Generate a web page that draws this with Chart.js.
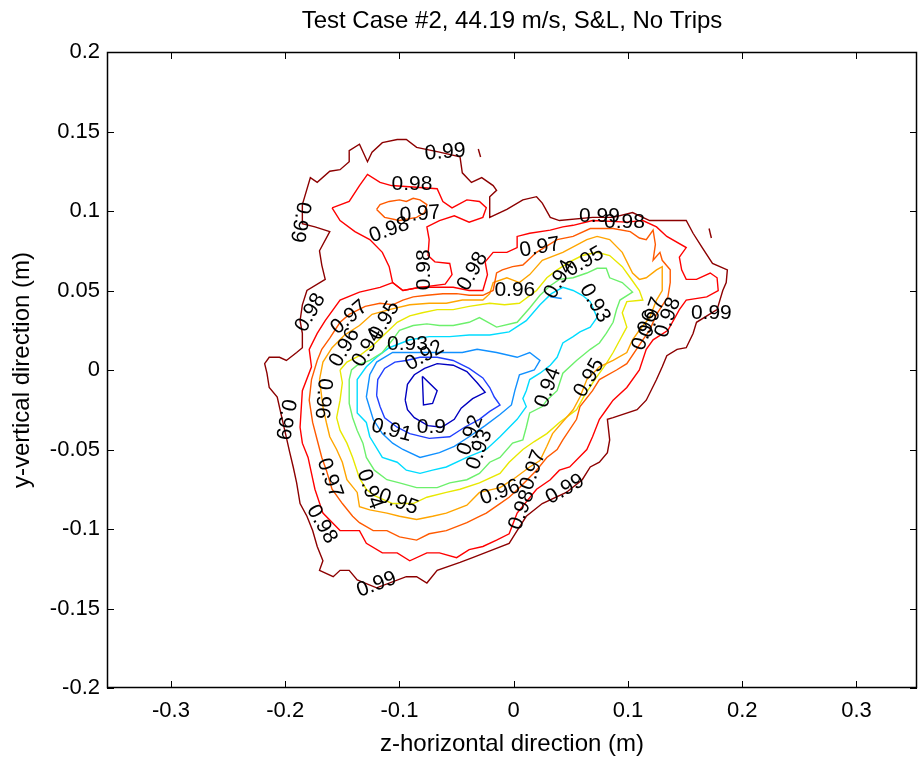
<!DOCTYPE html>
<html>
<head>
<meta charset="utf-8">
<title>Test Case #2</title>
<script src="https://cdn.jsdelivr.net/npm/chart.js@4.4.1/dist/chart.umd.min.js"></script>
<style>
  body { margin: 0; background: #fff; }
</style>
</head>
<body>
<canvas id="chart1" width="919" height="759"></canvas>
<script>
// contour levels and colours (jet-like, outer = 0.99)
const levels = [0.99, 0.98, 0.97, 0.96, 0.95, 0.94, 0.93, 0.92, 0.91, 0.9];
const levelColors = ['#8c0000', '#ff0000', '#ff5a00', '#ffa500', '#e8e800',
                     '#6cf06c', '#00dcff', '#1090ff', '#2040ff', '#0000c0'];

const xTicks = [-0.3, -0.2, -0.1, 0, 0.1, 0.2, 0.3];
const xTickLabels = ['-0.3', '-0.2', '-0.1', '0', '0.1', '0.2', '0.3'];
const yTicks = [-0.2, -0.15, -0.1, -0.05, 0, 0.05, 0.1, 0.15, 0.2];
const yTickLabels = ['-0.2', '-0.15', '-0.1', '-0.05', '0', '0.05', '0.1', '0.15', '0.2'];

// contour lines, [z, y] in metres
const c99 = [[-0.185,0.104],[-0.178,0.121],[-0.172,0.118],[-0.161,0.125],[-0.152,0.126],[-0.144,0.131],[-0.144,0.138],[-0.135,0.142],[-0.128,0.131],[-0.124,0.137],[-0.115,0.143],[-0.102,0.145],[-0.094,0.145],[-0.085,0.140],[-0.065,0.137],[-0.047,0.134],[-0.045,0.124],[-0.037,0.118],[-0.028,0.121],[-0.018,0.116],[-0.015,0.113],[-0.021,0.109],[-0.021,0.096],[-0.006,0.101],[0.008,0.107],[0.020,0.109],[0.025,0.105],[0.032,0.096],[0.040,0.094],[0.069,0.096],[0.087,0.096],[0.104,0.099],[0.119,0.094],[0.139,0.094],[0.151,0.094],[0.157,0.086],[0.165,0.077],[0.174,0.067],[0.187,0.063],[0.186,0.055],[0.183,0.050],[0.178,0.038],[0.160,0.030],[0.157,0.023],[0.151,0.014],[0.143,0.013],[0.134,0.009],[0.130,0.002],[0.125,-0.006],[0.116,-0.019],[0.108,-0.025],[0.087,-0.030],[0.082,-0.031],[0.084,-0.044],[0.082,-0.052],[0.075,-0.058],[0.067,-0.061],[0.060,-0.069],[0.046,-0.077],[0.025,-0.084],[0.011,-0.092],[0.003,-0.101],[-0.004,-0.109],[-0.018,-0.113],[-0.036,-0.118],[-0.047,-0.121],[-0.067,-0.126],[-0.076,-0.134],[-0.085,-0.130],[-0.094,-0.130],[-0.120,-0.137],[-0.137,-0.132],[-0.144,-0.126],[-0.152,-0.126],[-0.158,-0.130],[-0.170,-0.126],[-0.167,-0.120],[-0.172,-0.111],[-0.176,-0.101],[-0.181,-0.092],[-0.187,-0.084],[-0.190,-0.071],[-0.193,-0.061],[-0.196,-0.052],[-0.202,-0.033],[-0.207,-0.017],[-0.214,-0.011],[-0.216,-0.002],[-0.218,0.004],[-0.214,0.008],[-0.205,0.008],[-0.199,0.006],[-0.190,0.011],[-0.185,0.014],[-0.185,0.023],[-0.187,0.031],[-0.185,0.041],[-0.181,0.050],[-0.165,0.057],[-0.168,0.066],[-0.170,0.075],[-0.161,0.087],[-0.174,0.090],[-0.185,0.092],[-0.185,0.104]];
const c99a = [[-0.031,0.139],[-0.029,0.134]];
const c99b = [[0.171,0.089],[0.173,0.083]];

const c98 = [[-0.106,0.055],[-0.097,0.050],[-0.082,0.052],[-0.067,0.052],[-0.053,0.052],[-0.039,0.050],[-0.027,0.050],[-0.023,0.060],[-0.025,0.068],[-0.018,0.074],[-0.006,0.074],[0.003,0.077],[0.003,0.084],[0.014,0.086],[0.032,0.088],[0.043,0.090],[0.052,0.091],[0.069,0.094],[0.099,0.093],[0.113,0.094],[0.125,0.090],[0.134,0.084],[0.151,0.077],[0.145,0.071],[0.147,0.063],[0.151,0.057],[0.160,0.057],[0.172,0.061],[0.178,0.058],[0.179,0.050],[0.169,0.046],[0.151,0.044],[0.145,0.038],[0.135,0.025],[0.122,0.019],[0.116,0.013],[0.110,0.000],[0.099,-0.011],[0.087,-0.019],[0.081,-0.025],[0.075,-0.031],[0.069,-0.042],[0.064,-0.050],[0.049,-0.061],[0.040,-0.063],[0.032,-0.069],[0.020,-0.075],[0.003,-0.090],[-0.004,-0.103],[-0.015,-0.107],[-0.027,-0.111],[-0.039,-0.113],[-0.050,-0.118],[-0.065,-0.115],[-0.076,-0.115],[-0.091,-0.120],[-0.102,-0.115],[-0.115,-0.115],[-0.129,-0.109],[-0.135,-0.101],[-0.152,-0.101],[-0.167,-0.090],[-0.174,-0.075],[-0.177,-0.065],[-0.180,-0.055],[-0.185,-0.046],[-0.187,-0.036],[-0.185,-0.013],[-0.177,0.002],[-0.179,0.013],[-0.172,0.023],[-0.165,0.031],[-0.152,0.044],[-0.135,0.049],[-0.117,0.052],[-0.106,0.055]];
const c98lobe = [[-0.159,0.102],[-0.144,0.106],[-0.135,0.116],[-0.128,0.123],[-0.117,0.118],[-0.107,0.116],[-0.067,0.114],[-0.062,0.106],[-0.054,0.102],[-0.041,0.107],[-0.030,0.106],[-0.024,0.102],[-0.027,0.096],[-0.039,0.093],[-0.052,0.097],[-0.065,0.094],[-0.076,0.090],[-0.074,0.082],[-0.075,0.072],[-0.069,0.068],[-0.056,0.067],[-0.054,0.060],[-0.060,0.054],[-0.082,0.052],[-0.097,0.050],[-0.106,0.055],[-0.109,0.065],[-0.115,0.074],[-0.126,0.082],[-0.139,0.087],[-0.152,0.094],[-0.159,0.102]];

const c97 = [[-0.161,0.020],[-0.152,0.030],[-0.144,0.035],[-0.130,0.040],[-0.117,0.042],[-0.106,0.041],[-0.097,0.044],[-0.088,0.046],[-0.076,0.047],[-0.062,0.048],[-0.050,0.048],[-0.039,0.047],[-0.027,0.047],[-0.018,0.050],[-0.015,0.061],[-0.010,0.063],[-0.001,0.065],[0.008,0.066],[0.020,0.074],[0.038,0.082],[0.052,0.084],[0.067,0.089],[0.087,0.089],[0.102,0.087],[0.110,0.083],[0.116,0.082],[0.122,0.088],[0.124,0.079],[0.122,0.069],[0.128,0.074],[0.130,0.069],[0.137,0.063],[0.137,0.055],[0.135,0.046],[0.125,0.035],[0.119,0.025],[0.113,0.019],[0.099,0.004],[0.090,0.000],[0.075,-0.006],[0.069,-0.013],[0.058,-0.023],[0.055,-0.031],[0.043,-0.044],[0.038,-0.050],[0.029,-0.055],[0.020,-0.063],[0.005,-0.074],[-0.004,-0.080],[-0.012,-0.084],[-0.024,-0.090],[-0.030,-0.092],[-0.041,-0.096],[-0.059,-0.101],[-0.074,-0.103],[-0.085,-0.107],[-0.100,-0.105],[-0.111,-0.101],[-0.123,-0.101],[-0.135,-0.096],[-0.141,-0.092],[-0.150,-0.084],[-0.159,-0.075],[-0.164,-0.063],[-0.168,-0.055],[-0.172,-0.044],[-0.176,-0.033],[-0.179,-0.019],[-0.177,-0.006],[-0.172,0.006],[-0.168,0.013],[-0.161,0.020]];
const c97lobe = [[-0.120,0.101],[-0.117,0.104],[-0.109,0.106],[-0.100,0.107],[-0.094,0.106],[-0.088,0.108],[-0.082,0.107],[-0.076,0.104],[-0.078,0.099],[-0.085,0.096],[-0.100,0.094],[-0.113,0.096],[-0.120,0.101]];

const c96 = [[-0.170,-0.006],[-0.167,0.005],[-0.159,0.014],[-0.148,0.022],[-0.135,0.028],[-0.124,0.035],[-0.109,0.038],[-0.091,0.041],[-0.074,0.042],[-0.059,0.042],[-0.045,0.044],[-0.027,0.044],[-0.021,0.048],[-0.018,0.055],[-0.006,0.058],[0.005,0.055],[0.014,0.060],[0.025,0.069],[0.043,0.074],[0.064,0.082],[0.073,0.084],[0.084,0.082],[0.095,0.074],[0.104,0.061],[0.110,0.057],[0.116,0.058],[0.125,0.063],[0.130,0.065],[0.130,0.050],[0.125,0.044],[0.119,0.033],[0.110,0.025],[0.104,0.019],[0.099,0.011],[0.087,0.006],[0.075,0.002],[0.064,-0.006],[0.058,-0.017],[0.052,-0.025],[0.046,-0.030],[0.034,-0.040],[0.029,-0.048],[0.023,-0.057],[0.014,-0.061],[-0.001,-0.069],[-0.012,-0.074],[-0.030,-0.077],[-0.041,-0.085],[-0.059,-0.090],[-0.071,-0.092],[-0.085,-0.094],[-0.100,-0.092],[-0.111,-0.090],[-0.126,-0.088],[-0.135,-0.086],[-0.137,-0.077],[-0.146,-0.069],[-0.150,-0.058],[-0.155,-0.050],[-0.161,-0.042],[-0.164,-0.033],[-0.167,-0.023],[-0.170,-0.006]];

const c95 = [[-0.152,0.000],[-0.146,0.005],[-0.135,0.009],[-0.124,0.015],[-0.115,0.021],[-0.102,0.030],[-0.091,0.034],[-0.080,0.036],[-0.067,0.038],[-0.053,0.038],[-0.039,0.040],[-0.021,0.042],[-0.008,0.041],[0.005,0.042],[0.020,0.050],[0.029,0.058],[0.038,0.063],[0.049,0.068],[0.060,0.072],[0.073,0.074],[0.084,0.072],[0.095,0.065],[0.102,0.058],[0.110,0.050],[0.113,0.044],[0.099,0.043],[0.095,0.036],[0.099,0.027],[0.093,0.019],[0.087,0.011],[0.081,0.004],[0.071,-0.006],[0.062,-0.016],[0.055,-0.025],[0.040,-0.033],[0.029,-0.040],[0.018,-0.045],[0.008,-0.050],[-0.004,-0.058],[-0.012,-0.065],[-0.030,-0.071],[-0.047,-0.075],[-0.059,-0.077],[-0.076,-0.080],[-0.088,-0.084],[-0.106,-0.084],[-0.122,-0.079],[-0.129,-0.075],[-0.135,-0.068],[-0.141,-0.055],[-0.146,-0.046],[-0.152,-0.038],[-0.155,-0.030],[-0.152,-0.019],[-0.150,-0.008],[-0.152,0.000]];

const c94 = [[-0.144,-0.006],[-0.142,0.000],[-0.137,0.003],[-0.126,0.006],[-0.115,0.011],[-0.106,0.019],[-0.100,0.025],[-0.088,0.028],[-0.076,0.029],[-0.065,0.028],[-0.053,0.028],[-0.039,0.030],[-0.030,0.033],[-0.015,0.027],[0.003,0.030],[0.014,0.039],[0.023,0.047],[0.032,0.053],[0.040,0.057],[0.052,0.058],[0.064,0.061],[0.073,0.064],[0.081,0.064],[0.084,0.058],[0.095,0.055],[0.104,0.049],[0.093,0.044],[0.090,0.038],[0.087,0.030],[0.081,0.023],[0.075,0.017],[0.067,0.013],[0.055,0.006],[0.043,-0.002],[0.038,-0.013],[0.029,-0.019],[0.025,-0.023],[0.014,-0.027],[0.011,-0.036],[0.008,-0.044],[-0.001,-0.046],[-0.012,-0.055],[-0.021,-0.058],[-0.030,-0.065],[-0.041,-0.069],[-0.056,-0.071],[-0.067,-0.074],[-0.085,-0.074],[-0.100,-0.071],[-0.111,-0.069],[-0.122,-0.063],[-0.129,-0.055],[-0.132,-0.046],[-0.137,-0.038],[-0.141,-0.030],[-0.144,-0.021],[-0.144,-0.006]];

const c93 = [[-0.137,-0.016],[-0.137,-0.006],[-0.129,0.002],[-0.120,0.008],[-0.109,0.014],[-0.091,0.019],[-0.074,0.021],[-0.056,0.021],[-0.039,0.022],[-0.021,0.022],[-0.004,0.024],[0.011,0.031],[0.023,0.041],[0.033,0.048],[0.043,0.052],[0.052,0.050],[0.060,0.047],[0.067,0.043],[0.073,0.033],[0.067,0.027],[0.058,0.024],[0.052,0.021],[0.043,0.017],[0.038,0.008],[0.032,0.003],[0.023,-0.002],[0.014,-0.006],[0.011,-0.013],[0.008,-0.018],[0.011,-0.023],[0.003,-0.031],[-0.012,-0.042],[-0.024,-0.050],[-0.041,-0.055],[-0.059,-0.061],[-0.071,-0.063],[-0.082,-0.065],[-0.094,-0.063],[-0.102,-0.058],[-0.115,-0.055],[-0.126,-0.042],[-0.129,-0.033],[-0.137,-0.027],[-0.137,-0.016]];

const c92 = [[-0.129,-0.017],[-0.126,-0.003],[-0.120,0.005],[-0.106,0.011],[-0.088,0.011],[-0.065,0.011],[-0.045,0.011],[-0.032,0.013],[-0.015,0.011],[0.003,0.008],[0.014,0.011],[0.023,0.006],[0.018,0.000],[0.005,-0.003],[0.001,-0.013],[-0.002,-0.022],[-0.012,-0.028],[-0.025,-0.035],[-0.039,-0.042],[-0.052,-0.048],[-0.065,-0.052],[-0.082,-0.055],[-0.097,-0.050],[-0.106,-0.046],[-0.115,-0.040],[-0.123,-0.031],[-0.129,-0.017]];
const c92dash = [[0.032,0.046],[0.042,0.045]];

const c91 = [[-0.120,-0.016],[-0.119,-0.006],[-0.113,0.001],[-0.104,0.005],[-0.094,0.006],[-0.082,0.008],[-0.067,0.008],[-0.053,0.006],[-0.039,0.001],[-0.027,-0.005],[-0.021,-0.011],[-0.017,-0.017],[-0.012,-0.022],[-0.021,-0.026],[-0.030,-0.031],[-0.043,-0.036],[-0.056,-0.042],[-0.074,-0.043],[-0.091,-0.040],[-0.102,-0.036],[-0.113,-0.030],[-0.117,-0.023],[-0.120,-0.016]];

const c90 = [[-0.095,-0.019],[-0.093,-0.009],[-0.087,-0.003],[-0.078,0.001],[-0.067,0.004],[-0.053,0.003],[-0.041,-0.001],[-0.032,-0.008],[-0.025,-0.014],[-0.036,-0.018],[-0.046,-0.024],[-0.052,-0.031],[-0.063,-0.036],[-0.075,-0.035],[-0.087,-0.030],[-0.093,-0.025],[-0.095,-0.019]];
const c90inner = [[-0.080,-0.004],[-0.067,-0.013],[-0.071,-0.021],[-0.079,-0.022],[-0.080,-0.004]];

// which line belongs to which level (index into levels)
const contourLines = [
  [c99, 0], [c99a, 0], [c99b, 0],
  [c98, 1], [c98lobe, 1],
  [c97, 2], [c97lobe, 2],
  [c96, 3], [c95, 4], [c94, 5], [c93, 6],
  [c92, 7], [c92dash, 7], [c91, 8], [c90, 9], [c90inner, 9]
];

// clabel text: [z, y, text, angle in degrees]
const contourLabels = [
  [-0.060,0.137,'0.99',-5], [-0.089,0.117,'0.98',0], [-0.082,0.098,'0.97',-5], [-0.109,0.088,'0.98',-20],
  [-0.187,0.093,'0.99',100], [-0.200,-0.031,'0.99',100], [-0.167,-0.018,'0.96',95],
  [-0.161,-0.068,'0.97',70], [-0.168,-0.097,'0.98',60], [-0.120,-0.135,'0.99',-20],
  [-0.126,-0.075,'0.94',70], [-0.101,-0.083,'0.95',20], [-0.012,-0.077,'0.96',-20],
  [0.017,-0.063,'0.97',-70], [0.007,-0.088,'0.98',-70], [0.045,-0.075,'0.99',-30],
  [-0.107,-0.038,'0.91',15], [-0.072,-0.036,'0.9',0], [-0.038,-0.041,'0.92',-70], [-0.030,-0.050,'0.93',-70],
  [0.030,-0.011,'0.94',-70], [0.066,-0.005,'0.95',-60], [0.071,0.042,'0.93',60], [0.040,0.057,'0.94',-60],
  [0.062,0.068,'0.95',-30], [0.001,0.050,'0.96',0], [0.023,0.077,'0.97',-10],
  [0.075,0.097,'0.99',0], [0.097,0.093,'0.98',0], [0.173,0.036,'0.99',0],
  [0.135,0.033,'0.98',-70], [0.121,0.033,'0.97',-70], [0.115,0.025,'0.96',-70],
  [-0.036,0.062,'0.98',-60], [-0.078,0.063,'0.98',-90], [-0.178,0.036,'0.98',-60],
  [-0.144,0.033,'0.97',-40], [-0.113,0.031,'0.95',-60], [-0.148,0.014,'0.96',-60],
  [-0.128,0.014,'0.94',-60], [-0.093,0.016,'0.93',0], [-0.078,0.009,'0.92',-30]
];

const chartTitle = 'Test Case #2, 44.19 m/s, S&L, No Trips';
const FONT = '"Liberation Sans", Arial, sans-serif';

// box, inward ticks and the title, matlab style
const axesBox = {
  id: 'axesBox',
  afterDraw(chart) {
    const {ctx, chartArea, scales} = chart;
    const {left, right, top, bottom} = chartArea;
    ctx.save();
    ctx.strokeStyle = '#000';
    ctx.lineWidth = 1.5;
    ctx.strokeRect(left + 0.5, top + 0.5, right - left - 1, bottom - top - 1);
    ctx.lineWidth = 1;
    ctx.beginPath();
    xTicks.forEach(v => {
      const px = Math.round(scales.x.getPixelForValue(v)) + 0.5;
      ctx.moveTo(px, bottom); ctx.lineTo(px, bottom - 7);
      ctx.moveTo(px, top); ctx.lineTo(px, top + 7);
    });
    yTicks.forEach(v => {
      const py = Math.round(scales.y.getPixelForValue(v)) + 0.5;
      ctx.moveTo(left, py); ctx.lineTo(left + 7, py);
      ctx.moveTo(right, py); ctx.lineTo(right - 7, py);
    });
    ctx.stroke();
    ctx.fillStyle = '#000';
    ctx.font = '24px ' + FONT;
    ctx.textAlign = 'center';
    ctx.textBaseline = 'middle';
    ctx.fillText(chartTitle, (left + right) / 2, 21);
    ctx.restore();
  }
};

const clabels = {
  id: 'clabels',
  afterDatasetsDraw(chart) {
    const {ctx, scales} = chart;
    ctx.save();
    ctx.fillStyle = '#000';
    ctx.font = '21px ' + FONT;
    ctx.textAlign = 'center';
    ctx.textBaseline = 'middle';
    contourLabels.forEach(([x, y, txt, ang]) => {
      ctx.save();
      ctx.translate(scales.x.getPixelForValue(x), scales.y.getPixelForValue(y));
      ctx.rotate(ang * Math.PI / 180);
      ctx.fillText(txt, 0, 0);
      ctx.restore();
    });
    ctx.restore();
  }
};

const ctx1 = document.getElementById('chart1').getContext('2d');
const chart1 = new Chart(ctx1, {
  type: 'scatter',
  data: {
    datasets: contourLines.map(([pts, li]) => ({
      label: String(levels[li]),
      data: pts.map(p => ({x: p[0], y: p[1]})),
      showLine: true,
      borderColor: levelColors[li],
      borderWidth: 1.4,
      pointRadius: 0,
      fill: false,
      tension: 0
    }))
  },
  options: {
    responsive: false,
    animation: false,
    layout: { padding: { top: 52, right: 2, left: 0, bottom: 0 } },
    plugins: {
      legend: { display: false },
      tooltip: { enabled: false }
    },
    scales: {
      x: {
        type: 'linear',
        min: -0.356,
        max: 0.353,
        afterBuildTicks: s => { s.ticks = xTicks.map(v => ({value: v})); },
        afterFit: s => { s.height = 71; },
        grid: { display: false, drawTicks: false },
        border: { display: false },
        ticks: {
          color: '#000',
          font: { family: FONT, size: 22 },
          padding: 10,
          autoSkip: false,
          maxRotation: 0,
          callback: (v, i) => xTickLabels[i]
        },
        title: {
          display: true,
          text: 'z-horizontal direction (m)',
          color: '#000',
          font: { family: FONT, size: 24 },
          padding: { top: 0, bottom: 0 }
        }
      },
      y: {
        type: 'linear',
        min: -0.2,
        max: 0.2,
        afterBuildTicks: s => { s.ticks = yTicks.map(v => ({value: v})); },
        afterFit: s => { s.width = 107; },
        grid: { display: false, drawTicks: false },
        border: { display: false },
        ticks: {
          color: '#000',
          font: { family: FONT, size: 22 },
          padding: 7,
          autoSkip: false,
          callback: (v, i) => yTickLabels[i]
        },
        title: {
          display: true,
          text: 'y-vertical direction (m)',
          color: '#000',
          font: { family: FONT, size: 24 },
          padding: { top: 8, bottom: 0 }
        }
      }
    }
  },
  plugins: [axesBox, clabels]
});
</script>
</body>
</html>
